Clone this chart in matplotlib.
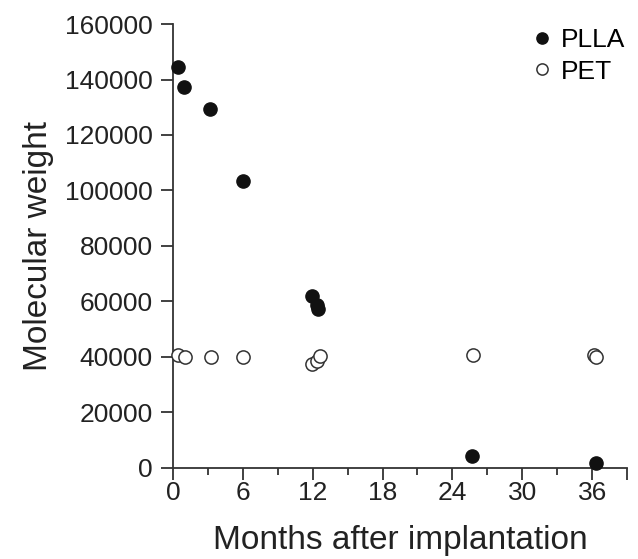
import numpy as np
import matplotlib.pyplot as plt
from matplotlib.ticker import MultipleLocator

plt.rcParams['font.family'] = ['Liberation Sans', 'DejaVu Sans']

# PLLA (filled) and PET (open) molecular weight vs months
plla_months = [0.45, 0.95, 3.2, 6.05, 11.9, 12.35, 12.45, 25.7, 36.3]
plla_mw = [144500, 137300, 129400, 103400, 62000, 58600, 57300, 4300, 1800]

pet_months = [0.4, 1.05, 3.25, 6.05, 11.9, 12.35, 12.6, 25.75, 36.15, 36.35]
pet_mw = [40800, 40000, 40100, 39900, 37600, 38600, 40400, 40800, 40700, 39800]

fig = plt.figure(figsize=(6.38, 5.59), dpi=100)
ax = fig.add_axes([0.271, 0.163, 0.712, 0.794])

ax.plot(plla_months, plla_mw, 'o', ms=9.5, mfc='#111111', mec='#111111',
        mew=1.0, ls='none', label='PLLA', clip_on=False, zorder=3)
ax.plot(pet_months, pet_mw, 'o', ms=9.5, mfc='white', mec='#333333',
        mew=1.1, ls='none', label='PET', clip_on=False, zorder=3)

ax.set_xlim(0, 39)
ax.set_ylim(0, 160000)
ax.xaxis.set_minor_locator(MultipleLocator(3))
ax.yaxis.set_major_locator(MultipleLocator(20000))
ax.set_xticks([0, 6, 12, 18, 24, 30, 36, 39])
ax.set_xticklabels(['0', '6', '12', '18', '24', '30', '36', ''])

for s in ['top', 'right']:
    ax.spines[s].set_visible(False)
for s in ['left', 'bottom']:
    ax.spines[s].set_linewidth(1.3)
    ax.spines[s].set_color('#333333')

ax.tick_params(which='major', length=8.5, width=1.3, color='#333333',
               labelsize=19, labelcolor='#222222')
ax.tick_params(which='minor', length=5, width=1.3, color='#333333')
ax.tick_params(axis='x', which='major', pad=1)
ax.tick_params(axis='y', which='major', pad=6)

ax.set_xlabel('Months after implantation', fontsize=24, color='#222222', labelpad=14)
ax.set_ylabel('Molecular weight', fontsize=24, color='#222222', labelpad=8)

ax.legend(loc='upper right', bbox_to_anchor=(1.047, 1.045), frameon=False,
          fontsize=19, markerscale=0.85, handletextpad=0.2, handlelength=1.0,
          labelspacing=0.3)

fig.savefig('out.png', dpi=100)
